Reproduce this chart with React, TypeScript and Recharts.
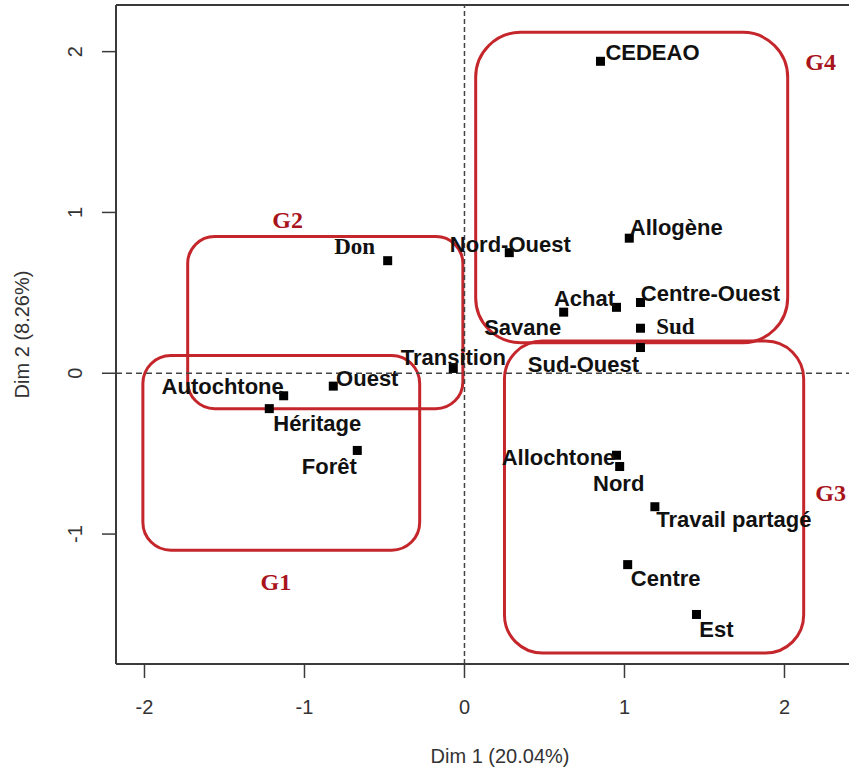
import {
    ScatterChart,
    Scatter,
    XAxis,
    YAxis,
    ReferenceLine,
    ReferenceArea,
} from "recharts";

// MCA factor map, coordinates
const categories = [
    "CEDEAO", "Allogène", "Nord-Ouest", "Don", "Achat", "Savane", "Centre-Ouest",
    "Sud", "Sud-Ouest", "Transition", "Autochtone", "Héritage", "Ouest", "Forêt",
    "Allochtone", "Nord", "Travail partagé", "Centre", "Est",
];
const dim1 = [0.85, 1.03, 0.28, -0.48, 0.95, 0.62, 1.1, 1.1, 1.1, -0.07, -1.13, -1.22, -0.82, -0.67, 0.95, 0.97, 1.19, 1.02, 1.45];
const dim2 = [1.94, 0.84, 0.75, 0.7, 0.41, 0.38, 0.44, 0.28, 0.16, 0.03, -0.14, -0.22, -0.08, -0.48, -0.51, -0.58, -0.83, -1.19, -1.5];

// groups drawn as rounded boxes (extent in data units)
const groupNames = ["G1", "G2", "G3", "G4"];
const groupX1 = [-2.01, -1.73, 0.25, 0.07];
const groupX2 = [-0.28, -0.01, 2.12, 2.02];
const groupY1 = [-1.1, -0.22, -1.74, 0.19];
const groupY2 = [0.11, 0.85, 0.2, 2.12];

const xTicks = [-2, -1, 0, 1, 2];
const yTicks = [-1, 0, 1, 2];
const xDomain = [-2.178, 2.622];
const yDomain = [-1.808, 2.29];

const points = categories.map((name, i) => ({ name, x: dim1[i], y: dim2[i] }));

const SANS = "'Liberation Sans', Arial, sans-serif";
const SERIF = "'Liberation Serif', 'Times New Roman', serif";
const RED = "#c4262b";
const DARKRED = "#a8141c";
const AXIS = "#3a3a3a";

// label offset from the marker (text centre), px
const labelOffset: Record<string, [number, number]> = {
    CEDEAO: [52, -9],
    "Allogène": [47, -11],
    "Nord-Ouest": [1, -8],
    Don: [-33, -14],
    Achat: [-32, -9],
    Savane: [-41, 15],
    "Centre-Ouest": [70, -9],
    Sud: [35, -2],
    "Sud-Ouest": [-57, 17],
    Transition: [0, -11],
    Autochtone: [-61, -9],
    Ouest: [34, -8],
    "Héritage": [48, 15],
    "Forêt": [-28, 16],
    Allochtone: [-58, 2],
    Nord: [-1, 17],
    "Travail partagé": [79, 13],
    Centre: [38, 14],
    Est: [20, 15],
};
const serifLabels = ["Sud", "Don"];

const groupStyle: Record<string, { r: number; lx: (b: any) => number; ly: (b: any) => number }> = {
    G1: { r: 28, lx: (b) => b.x + 133, ly: (b) => b.y + b.height + 32 },
    G2: { r: 27, lx: (b) => b.x + 100, ly: (b) => b.y - 17 },
    G3: { r: 38, lx: (b) => b.x + b.width + 27, ly: (b) => b.y + b.height / 2 - 4 },
    G4: { r: 45, lx: (b) => b.x + b.width + 33, ly: (b) => b.y + 30 },
};

const Marker = (props: any) => {
    const { cx, cy, payload } = props;
    const o = labelOffset[payload.name] ?? [0, -12];
    const serif = serifLabels.includes(payload.name);
    return (
        <g>
            <rect x={cx - 4.5} y={cy - 4.5} width={9} height={9} fill="#000" />
            <text
                x={cx + o[0]}
                y={cy + o[1]}
                textAnchor="middle"
                dominantBaseline="central"
                fontFamily={serif ? SERIF : SANS}
                fontWeight="bold"
                fontSize={serif ? 23 : 22}
                fill="#111"
            >
                {payload.name}
            </text>
        </g>
    );
};

const groupShape = (name: string) => (p: any) => {
    const s = groupStyle[name];
    return (
        <g>
            <rect
                x={p.x}
                y={p.y}
                width={p.width}
                height={p.height}
                rx={s.r}
                ry={s.r}
                fill="none"
                stroke={RED}
                strokeWidth={3}
            />
            <text
                x={s.lx(p)}
                y={s.ly(p)}
                textAnchor="middle"
                dominantBaseline="central"
                fontFamily={SERIF}
                fontWeight="bold"
                fontSize={24}
                fill={DARKRED}
            >
                {name}
            </text>
        </g>
    );
};

const YTick = ({ x, y, payload }: any) => (
    <text
        x={x}
        y={y}
        transform={`rotate(-90 ${x} ${y})`}
        textAnchor="middle"
        dy="0.35em"
        fontFamily={SANS}
        fontSize={20}
        fill="#333"
    >
        {payload.value}
    </text>
);

const XTitle = ({ viewBox }: any) => (
    <text
        x={viewBox.x + viewBox.width / 2}
        y={viewBox.y + 99}
        textAnchor="middle"
        fontFamily={SANS}
        fontSize={20}
        fill="#333"
    >
        Dim 1 (20.04%)
    </text>
);

const YTitle = ({ viewBox }: any) => {
    const cx = viewBox.x + 22;
    const cy = viewBox.y + viewBox.height / 2;
    return (
        <text
            x={cx}
            y={cy}
            transform={`rotate(-90 ${cx} ${cy})`}
            textAnchor="middle"
            dy="0.35em"
            fontFamily={SANS}
            fontSize={20}
            fill="#333"
        >
            Dim 2 (8.26%)
        </text>
    );
};

export default function App() {
    return (
        <div style={{ position: "absolute", left: 0, top: 0, background: "#fff" }}>
            <ScatterChart
                width={849}
                height={780}
                margin={{ top: 5, right: -35, bottom: 0, left: 0 }}
            >
                <XAxis
                    type="number"
                    dataKey="x"
                    domain={xDomain}
                    ticks={xTicks}
                    allowDataOverflow
                    height={116}
                    tickSize={14}
                    tickMargin={22}
                    axisLine={{ stroke: AXIS, strokeWidth: 2 }}
                    tickLine={{ stroke: AXIS, strokeWidth: 1.5 }}
                    tick={{ fontFamily: SANS, fontSize: 20, fill: "#333" }}
                    label={{ content: XTitle }}
                />
                <YAxis
                    type="number"
                    dataKey="y"
                    domain={yDomain}
                    ticks={yTicks}
                    allowDataOverflow
                    width={116}
                    tickSize={14}
                    tickMargin={27}
                    axisLine={{ stroke: AXIS, strokeWidth: 2 }}
                    tickLine={{ stroke: AXIS, strokeWidth: 1.5 }}
                    tick={<YTick />}
                    label={{ content: YTitle }}
                />
                {/* top side of the plot box */}
                <ReferenceLine y={yDomain[1]} ifOverflow="visible" stroke={AXIS} strokeWidth={2} />
                <ReferenceLine x={0} stroke="#444" strokeWidth={1.5} strokeDasharray="5 3" />
                <ReferenceLine y={0} stroke="#444" strokeWidth={1.5} strokeDasharray="6 4" />
                <Scatter
                    data={points}
                    shape={<Marker />}
                    isAnimationActive={false}
                />
                {groupNames.map((g, i) => (
                    <ReferenceArea
                        key={g}
                        x1={groupX1[i]}
                        x2={groupX2[i]}
                        y1={groupY1[i]}
                        y2={groupY2[i]}
                        ifOverflow="visible"
                        shape={groupShape(g)}
                    />
                ))}
            </ScatterChart>
        </div>
    );
}
